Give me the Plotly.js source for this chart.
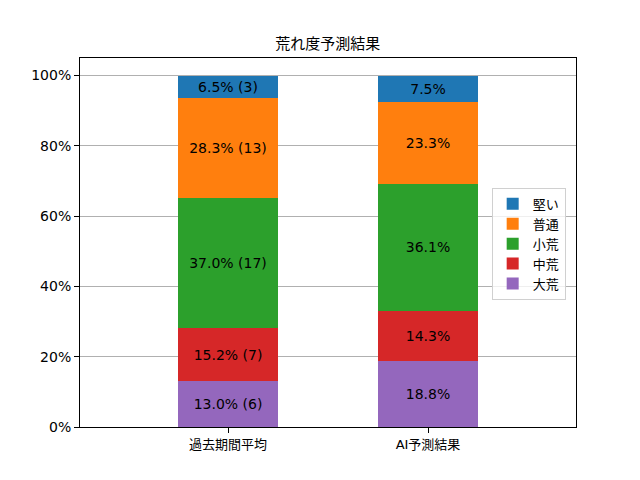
<!DOCTYPE html>
<html>
<head>
<meta charset="utf-8">
<script src="https://cdn.plot.ly/plotly-3.0.1.min.js"></script>
<style>
  body { margin: 0; }
  #chart { width: 640px; height: 480px; }
</style>
</head>
<body>
<div id="chart"></div>
<script>
// categories and stacked series (bottom to top)
const categories = ['過去期間平均', 'AI予測結果'];
const levels = ['大荒', '中荒', '小荒', '普通', '堅い'];
const colors = ['#9467bd', '#d62728', '#2ca02c', '#ff7f0e', '#1f77b4'];

// percent per level: [past, AI]
const pastPct = [13.0, 15.2, 37.0, 28.3, 6.5];
const aiPct = [18.8, 14.3, 36.1, 23.3, 7.5];
// race counts for the past period
const pastCount = [6, 7, 17, 13, 3];

// y ticks
const yTicks = [0, 20, 40, 60, 80, 100];
const yTickText = yTicks.map(v => v + '%');

const FONT = 'DejaVu Sans, "Noto Sans CJK JP", sans-serif';

const traces = levels.map((name, i) => ({
    type: 'bar',
    name: name,
    x: categories,
    y: [pastPct[i], aiPct[i]],
    text: [
        pastPct[i].toFixed(1) + '% (' + pastCount[i] + ')',
        aiPct[i].toFixed(1) + '%'
    ],
    textposition: 'inside',
    insidetextanchor: 'middle',
    textangle: 0,
    textfont: { color: '#000', size: 14, family: FONT },
    marker: { color: colors[i], line: { width: 0 } },
    width: 0.5,
    hoverinfo: 'none'
}));

const layout = {
    width: 640,
    height: 480,
    barmode: 'stack',
    paper_bgcolor: '#fff',
    plot_bgcolor: '#fff',
    font: { family: FONT, color: '#000', size: 13 },
    margin: { l: 80, r: 64, t: 58, b: 53 },
    title: {
        text: '荒れ度予測結果',
        font: { size: 15, family: FONT },
        x: 0.512, xanchor: 'center',
        y: 0.908, yanchor: 'middle'
    },
    xaxis: {
        type: 'category',
        range: [-0.74, 1.74],
        showline: true, linecolor: '#000', linewidth: 1, mirror: true,
        ticks: 'outside', ticklen: 5, tickcolor: '#000',
        showgrid: false,
        tickfont: { size: 13 }
    },
    yaxis: {
        range: [0, 105],
        tickmode: 'array',
        tickvals: yTicks,
        ticktext: yTickText,
        showline: true, linecolor: '#000', linewidth: 1, mirror: true,
        ticks: 'outside', ticklen: 5, tickcolor: '#000',
        showgrid: true, gridcolor: '#b0b0b0', gridwidth: 1,
        zeroline: false,
        tickfont: { size: 14 }
    },
    showlegend: true,
    legend: {
        x: 0.83, xanchor: 'left',
        y: 0.648, yanchor: 'top',
        traceorder: 'reversed',
        bgcolor: 'rgba(255,255,255,0.8)',
        bordercolor: '#d0d0d0', borderwidth: 1,
        font: { size: 13 },
        itemwidth: 30
    }
};

Plotly.newPlot('chart', traces, layout, { displayModeBar: false, staticPlot: true });
</script>
</body>
</html>
